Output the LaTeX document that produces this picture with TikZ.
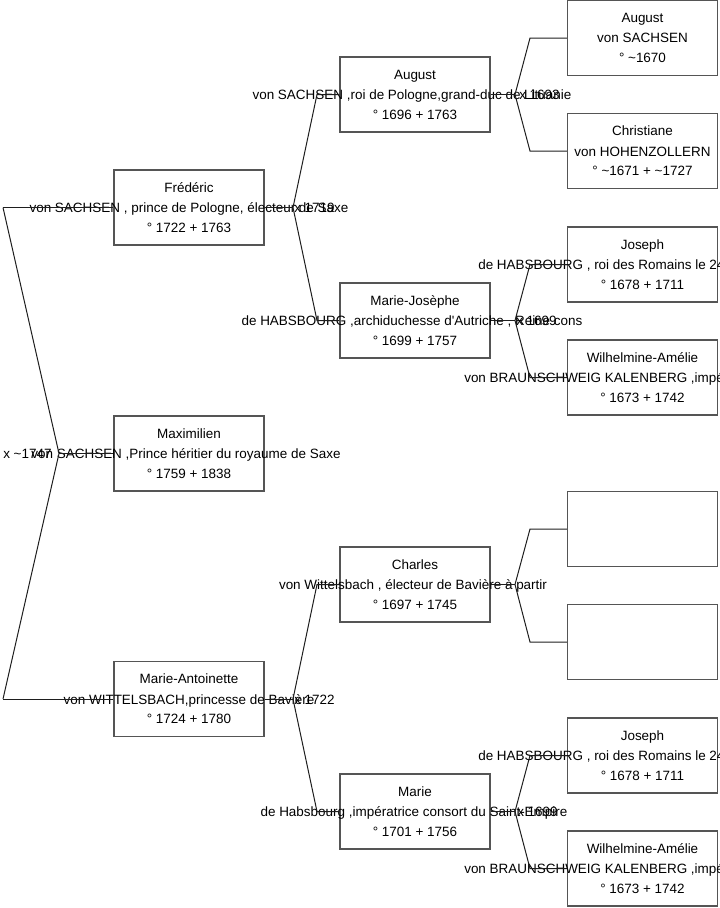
\documentclass[tikz,border=0pt]{standalone}
\usepackage{fontspec}
\setmainfont{Liberation Sans}
\definecolor{boxcol}{RGB}{85,85,85}
\definecolor{linecol}{RGB}{30,30,30}
\begin{document}
\begin{tikzpicture}[x=0.75pt,y=-0.75pt,
  pbox/.style={draw=boxcol,line width=0.8pt,minimum width=112.5pt,minimum height=56.25pt,inner sep=0pt},
  conn/.style={draw=linecol,line width=0.75pt},
  txt/.style={inner sep=0pt,anchor=base,font=\fontsize{10.1}{12}\selectfont},
  txtw/.style={inner sep=0pt,anchor=base west,font=\fontsize{10.1}{12}\selectfont}]
\useasboundingbox (0,0) rectangle (719,908);
\clip (0,0) rectangle (719,908);

% ---------- boxes ----------
\node[pbox] (fred) at (189,207.5) {};
\node[pbox] (maxi) at (189,453.5) {};
\node[pbox] (mant) at (189,699) {};
\node[pbox] (aug)  at (415,94.5) {};
\node[pbox] (mjos) at (415,320.5) {};
\node[pbox] (char) at (415,584.5) {};
\node[pbox] (mari) at (415,811.5) {};
\node[pbox] (augs) at (642.5,38) {};
\node[pbox] (chri) at (642.5,151) {};
\node[pbox] (josa) at (642.5,264.5) {};
\node[pbox] (wila) at (642.5,377.5) {};
\node[pbox] (empa) at (642.5,529) {};
\node[pbox] (empb) at (642.5,642) {};
\node[pbox] (josb) at (642.5,755.5) {};
\node[pbox] (wilb) at (642.5,868.5) {};

% ---------- texts ----------
\node[txt] (fredA) at (189,192) {Frédéric};
\node[txt] (fredB) at (189,212.5) {von SACHSEN , prince de Pologne, électeur de Saxe};
\node[txt] (fredC) at (189,232) {° 1722 + 1763};

\node[txt] (maxiA) at (189,438) {Maximilien};
\node[txt] (maxiB) at (186,458.5) {von SACHSEN ,Prince héritier du royaume de Saxe};
\node[txt] (maxiC) at (189,478) {° 1759 + 1838};

\node[txt] (mantA) at (189,683.5) {Marie-Antoinette};
\node[txt] (mantB) at (189,704) {von WITTELSBACH,princesse de Bavière};
\node[txt] (mantC) at (189,723.5) {° 1724 + 1780};

\node[txt] (augA) at (415,79) {August};
\node[txt] (augB) at (412,99.5) {von SACHSEN ,roi de Pologne,grand-duc de Lituanie};
\node[txt] (augC) at (415,119) {° 1696 + 1763};

\node[txt] (mjosA) at (415,305) {Marie-Josèphe};
\node[txt] (mjosB) at (412,325.5) {de HABSBOURG ,archiduchesse d\textquotesingle Autriche , Reine cons};
\node[txt] (mjosC) at (415,345) {° 1699 + 1757};

\node[txt] (charA) at (415,569) {Charles};
\node[txt] (charB) at (413,589.5) {von Wittelsbach , électeur de Bavière à partir};
\node[txt] (charC) at (415,609) {° 1697 + 1745};

\node[txt] (mariA) at (415,796) {Marie};
\node[txt] (mariB) at (414,816.5) {de Habsbourg ,impératrice consort du Saint-Empire};
\node[txt] (mariC) at (415,836) {° 1701 + 1756};

\node[txt] (augsA) at (642.5,22) {August};
\node[txt] (augsB) at (642.5,42.5) {von SACHSEN};
\node[txt] (augsC) at (642.5,62) {° \textasciitilde 1670};

\node[txt] (chriA) at (642.5,135.5) {Christiane};
\node[txt] (chriB) at (642.5,156) {von HOHENZOLLERN};
\node[txt] (chriC) at (642.5,175.5) {° \textasciitilde 1671 + \textasciitilde 1727};

\node[txt] (josaA) at (642.5,249) {Joseph};
\node[txtw] (josaB) at (478,269.5) {de HABSBOURG , roi des Romains le 24};
\node[txt] (josaC) at (642.5,289) {° 1678 + 1711};

\node[txt] (wilaA) at (642.5,362) {Wilhelmine-Amélie};
\node[txtw] (wilaB) at (464,382.5) {von BRAUNSCHWEIG KALENBERG ,impé};
\node[txt] (wilaC) at (642.5,402) {° 1673 + 1742};

\node[txt] (josbA) at (642.5,740) {Joseph};
\node[txtw] (josbB) at (478,760.5) {de HABSBOURG , roi des Romains le 24};
\node[txt] (josbC) at (642.5,780) {° 1678 + 1711};

\node[txt] (wilbA) at (642.5,853) {Wilhelmine-Amélie};
\node[txtw] (wilbB) at (464,873.5) {von BRAUNSCHWEIG KALENBERG ,impé};
\node[txt] (wilbC) at (642.5,893) {° 1673 + 1742};

% marriage labels
\node[txtw] (m0) at (3,458.5) {x \textasciitilde 1747};
\node[txtw] (m1) at (294,212.5) {x 1719};
\node[txtw] (m2) at (294,704) {x 1722};
\node[txtw] (m3) at (519,99.5) {x 1693};
\node[txtw] (m4) at (516,325.5) {x 1699};
\node[txtw] (m5) at (517,816.5) {x 1699};

% ---------- connector points ----------
\coordinate (a0) at (3,207.5);
\coordinate (v0) at (59,453.5);
\coordinate (b0) at (3,699);
\coordinate (v1) at (293,207.5);
\coordinate (u1) at (317,94.5);
\coordinate (d1) at (317,320.5);
\coordinate (v2) at (293,699);
\coordinate (u2) at (317,584.5);
\coordinate (d2) at (317,811.5);
\coordinate (v3) at (515,94.5);
\coordinate (u3) at (530,38);
\coordinate (d3) at (530,151);
\coordinate (v4) at (515,320.5);
\coordinate (u4) at (530,264.5);
\coordinate (d4) at (530,377.5);
\coordinate (v5) at (515,584.5);
\coordinate (u5) at (530,529);
\coordinate (d5) at (530,642);
\coordinate (v6) at (515,811.5);
\coordinate (u6) at (530,755.5);
\coordinate (d6) at (530,868.5);

% ---------- connectors ----------
\draw[conn] (a0) -- (fred.west);
\draw[conn] (a0) -- (v0) -- (b0);
\draw[conn] (v0) -- (maxi.west);
\draw[conn] (b0) -- (mant.west);

\draw[conn] (fred.east) -- (v1);
\draw[conn] (v1) -- (u1) -- (aug.west);
\draw[conn] (v1) -- (d1) -- (mjos.west);

\draw[conn] (mant.east) -- (v2);
\draw[conn] (v2) -- (u2) -- (char.west);
\draw[conn] (v2) -- (d2) -- (mari.west);

\draw[conn] (aug.east) -- (v3);
\draw[conn] (v3) -- (u3) -- (augs.west);
\draw[conn] (v3) -- (d3) -- (chri.west);

\draw[conn] (mjos.east) -- (v4);
\draw[conn] (v4) -- (u4) -- (josa.west);
\draw[conn] (v4) -- (d4) -- (wila.west);

\draw[conn] (char.east) -- (v5);
\draw[conn] (v5) -- (u5) -- (empa.west);
\draw[conn] (v5) -- (d5) -- (empb.west);

\draw[conn] (mari.east) -- (v6);
\draw[conn] (v6) -- (u6) -- (josb.west);
\draw[conn] (v6) -- (d6) -- (wilb.west);
\end{tikzpicture}
\end{document}
